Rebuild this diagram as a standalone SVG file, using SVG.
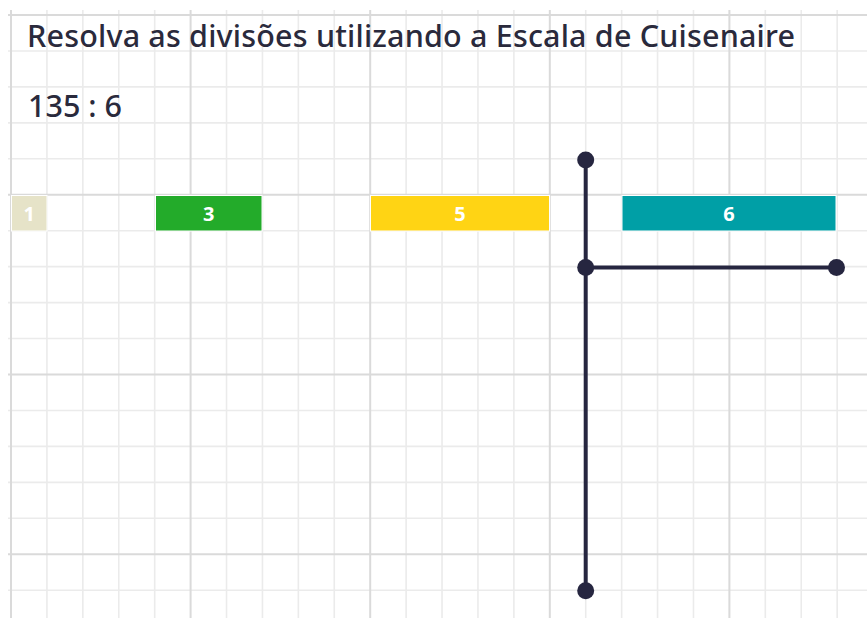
<svg xmlns="http://www.w3.org/2000/svg" width="867" height="618" viewBox="0 0 867 618">
<style>
.minor{stroke:#ebebeb;stroke-width:1.6;fill:none}
.major{stroke:#dadada;stroke-width:2;fill:none}
.txt{font-family:"Noto Sans","Open Sans",sans-serif;fill:#2a2a3c;font-size:30.5px;font-weight:500}
.blk{stroke:#ffffff;stroke-width:1}
.lbl{font-family:"Noto Sans","Open Sans",sans-serif;font-weight:700;font-size:20px;fill:#ffffff;text-anchor:middle}
.conn{stroke:#262640;stroke-width:4;fill:none}
.dot{fill:#262640}
</style>
<rect width="867" height="618" fill="#ffffff"/>
<g id="grid">
<path class="minor" d="M46.92 10V618M82.84 10V618M118.76 10V618M154.68 10V618M226.52 10V618M262.44 10V618M298.36 10V618M334.28 10V618M406.12 10V618M442.04 10V618M477.96 10V618M513.88 10V618M585.72 10V618M621.64 10V618M657.56 10V618M693.48 10V618M765.32 10V618M801.24 10V618M837.16 10V618
M8 50.95H867M8 86.9H867M8 122.85H867M8 158.8H867M8 230.7H867M8 266.65H867M8 302.6H867M8 338.55H867M8 410.45H867M8 446.4H867M8 482.35H867M8 518.3H867M8 590.2H867"/>
<path class="major" d="M11 10V618M190.6 10V618M370.2 10V618M549.8 10V618M729.4 10V618M8 15H867M8 194.75H867M8 374.5H867M8 554.25H867"/>
</g>
<g id="title">
<text class="txt" x="27" y="47" textLength="768" lengthAdjust="spacing">Resolva as divisões utilizando a Escala de Cuisenaire</text>
</g>
<g id="problem">
<text class="txt" x="28" y="117">135 : 6</text>
</g>
<g id="block1">
<rect class="blk" x="11.5" y="195.5" width="35.5" height="35.5" fill="#e6e3c8"/>
<text class="lbl" x="29.2" y="220.5">1</text>
</g>
<g id="block3">
<rect class="blk" x="155.5" y="195.5" width="106.5" height="35.5" fill="#23ab2a"/>
<text class="lbl" x="208.7" y="220.5">3</text>
</g>
<g id="block5">
<rect class="blk" x="370.5" y="195.5" width="179" height="35.5" fill="#ffd414"/>
<text class="lbl" x="460" y="220.5">5</text>
</g>
<g id="block6">
<rect class="blk" x="622" y="195.5" width="214" height="35.5" fill="#009fa6"/>
<text class="lbl" x="729" y="220.5">6</text>
</g>
<g id="connectors">
<path class="conn" d="M585.7 160V590.7M585.7 267.5H836.5"/>
<circle class="dot" cx="585.7" cy="160" r="8.5"/>
<circle class="dot" cx="585.7" cy="267.5" r="8.5"/>
<circle class="dot" cx="585.7" cy="590.7" r="8.5"/>
<circle class="dot" cx="836.5" cy="267.5" r="8.5"/>
</g>
</svg>
